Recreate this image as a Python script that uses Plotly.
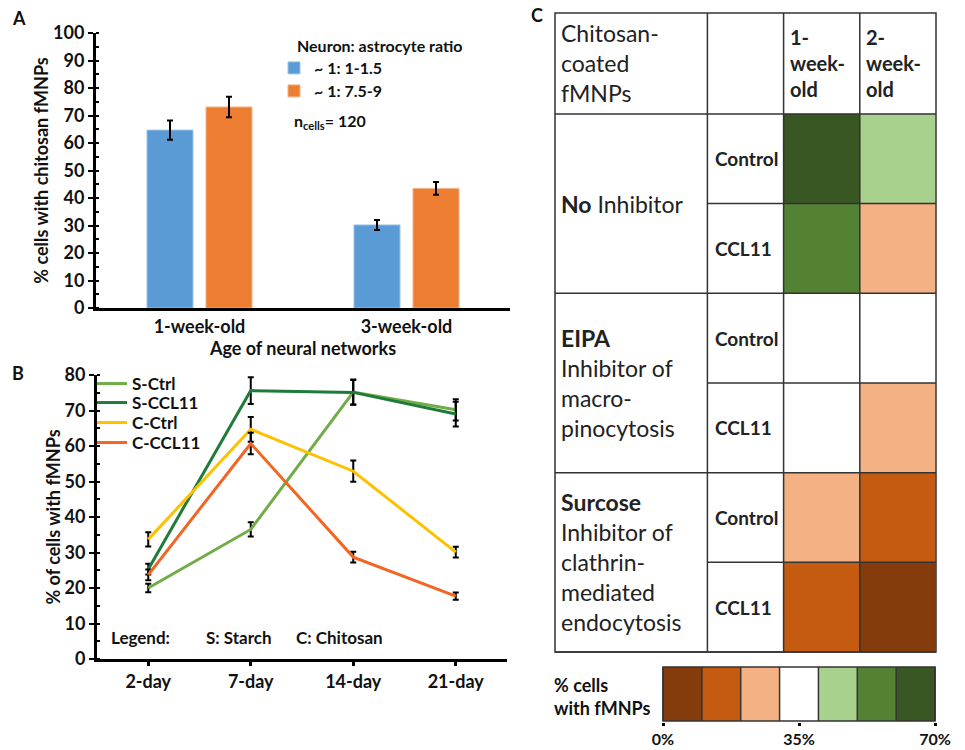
import plotly.graph_objects as go

W, H = 965, 750
FONT = "Lato, Carlito, 'Open Sans', sans-serif"
INK = "#111111"

# ---------------- Panel A data ----------------
ages_a = ["1-week-old", "3-week-old"]
ratio_labels = ["~ 1: 1-1.5", "~ 1: 7.5-9"]
ratio_low = [64.7, 30.2]
ratio_low_err = [3.5, 1.8]
ratio_high = [73.1, 43.5]
ratio_high_err = [3.7, 2.3]
n_cells = 120

# ---------------- Panel B data ----------------
days = ["2-day", "7-day", "14-day", "21-day"]
series_names = ["S-Ctrl", "S-CCL11", "C-Ctrl", "C-CCL11"]
s_ctrl = [20.0, 36.5, 75.2, 70.2]
s_ctrl_err = [1.2, 2.0, 3.5, 3.0]
s_ccl11 = [25.3, 75.6, 75.1, 69.0]
s_ccl11_err = [1.5, 3.8, 3.5, 3.5]
c_ctrl = [33.7, 64.7, 52.9, 30.1]
c_ctrl_err = [2.0, 3.5, 3.0, 1.5]
c_ccl11 = [23.7, 60.7, 28.7, 17.7]
c_ccl11_err = [1.5, 3.0, 1.5, 1.0]

# ---------------- Panel C data ----------------
group_labels = [
    "<b>No</b> Inhibitor",
    "<b>EIPA</b><br>Inhibitor of<br>macro-<br>pinocytosis",
    "<b>Surcose</b><br>Inhibitor of<br>clathrin-<br>mediated<br>endocytosis",
]
conditions = ["Control", "CCL11"]
ages_c = ["1-<br>week-<br>old", "2-<br>week-<br>old"]
# % cells with fMNPs (rows: group x condition, cols: 1-week, 2-week)
uptake = [
    [65, 45],
    [55, 25],
    [35, 35],
    [35, 25],
    [25, 15],
    [15, 5],
]
scale_edges = [0, 10, 20, 30, 40, 50, 60, 70]
scale_colors = ["#843C0C", "#C55A11", "#F4B183", "#FFFFFF", "#A9D18E", "#548235", "#385723"]
scale_ticks = [0, 35, 70]


def pxx(p):
    return p / W


def pxy(p):
    return 1 - p / H


# discrete colorscale
nb = len(scale_colors)
cscale = []
for i, c in enumerate(scale_colors):
    cscale.append([i / nb, c])
    cscale.append([(i + 1) / nb, c])

fig = go.Figure()

# ---- Panel A bars ----
a_styles = [("#5B9BD5", "#9CC3E8", "legend"), ("#ED7D31", "#F5B48A", "legend2")]
for name, vals, errs, (col, edge, lg) in zip(ratio_labels, [ratio_low, ratio_high],
                                              [ratio_low_err, ratio_high_err], a_styles):
    fig.add_trace(go.Bar(
        x=ages_a, y=vals, name=name, marker=dict(color=col, line=dict(color=edge, width=1)),
        error_y=dict(type="data", array=errs, color="black", thickness=2, width=3),
        xaxis="x", yaxis="y", legend=lg, showlegend=True,
    ))

# ---- Panel B lines ----
b_series = [(s_ctrl, s_ctrl_err, "#70AD47"), (s_ccl11, s_ccl11_err, "#1E7B3A"),
            (c_ctrl, c_ctrl_err, "#FFC000"), (c_ccl11, c_ccl11_err, "#F26522")]
for k, (name, (vals, errs, col)) in enumerate(zip(series_names, b_series)):
    fig.add_trace(go.Scatter(
        x=days, y=vals, name=name, mode="lines", line=dict(color=col, width=3),
        error_y=dict(type="data", array=errs, color="black", thickness=2, width=3),
        xaxis="x2", yaxis="y2", legend=f"legend{k + 3}", showlegend=True,
    ))

# ---- Panel C table heatmap ----
header_h = 1.125
col_edges = [0, 2, 3, 4, 5]
n_rows = len(uptake)
row_edges = [header_h + i for i in range(n_rows + 1)]
ytot = row_edges[-1]
fig.add_trace(go.Heatmap(
    z=uptake, x=col_edges[2:], y=row_edges, colorscale=cscale, zmin=scale_edges[0], zmax=scale_edges[-1],
    showscale=False, xaxis="x3", yaxis="y3", hoverinfo="skip", showlegend=False,
))

# ---- Color scale bar ----
centers = [[(a + b) / 2 for a, b in zip(scale_edges[:-1], scale_edges[1:])]]
fig.add_trace(go.Heatmap(
    z=centers, x=scale_edges, y=[0, 1], colorscale=cscale, zmin=scale_edges[0], zmax=scale_edges[-1],
    showscale=False, xaxis="x4", yaxis="y4", hoverinfo="skip", showlegend=False,
))

tickfont = dict(size=18, color=INK, weight="bold", family=FONT)
titlefont = dict(size=18, color=INK, weight="bold", family=FONT)

# table padding so border lines aren't clipped
padx = 2 / 76.2
pady = 2 / 89.8
spadx = 2 / (272 / 70)
spady = 1 / 54

legends = {}
# panel A legend entries
for k, ypx in enumerate([68, 91]):
    key = "legend" if k == 0 else "legend2"
    legends[key] = dict(x=pxx(274), y=pxy(ypx), xanchor="left", yanchor="middle", bgcolor="rgba(0,0,0,0)",
                        font=dict(size=16, weight="bold", color=INK, family=FONT), itemwidth=30)
# panel B legend entries
for k, ypx in enumerate([384, 403, 423, 443]):
    legends[f"legend{k + 3}"] = dict(x=pxx(92), y=pxy(ypx), xanchor="left", yanchor="middle",
                                     bgcolor="rgba(0,0,0,0)",
                                     font=dict(size=17, weight="bold", color=INK, family=FONT), itemwidth=30)

fig.update_layout(
    width=W, height=H, margin=dict(l=0, r=0, t=0, b=0, autoexpand=False),
    paper_bgcolor="white", plot_bgcolor="white", showlegend=True,
    font=dict(family=FONT, color=INK),
    barmode="group", bargap=0.43, bargroupgap=0.22,
    xaxis=dict(domain=[pxx(96), pxx(510)], type="category", range=[-0.5, 1.5],
               showline=True, linewidth=3, linecolor="black", ticks="", showgrid=False,
               tickfont=tickfont, title=dict(text="Age of neural networks", font=titlefont, standoff=0),
               anchor="y", automargin=False),
    yaxis=dict(domain=[pxy(308), pxy(33)], range=[0, 100], dtick=10,
               showline=True, linewidth=3, linecolor="black", showgrid=False, zeroline=False,
               ticks="outside", ticklen=5, tickwidth=2, tickcolor="black",
               minor=dict(dtick=5, ticks="inside", ticklen=3, tickwidth=2, tickcolor="black"),
               tickfont=tickfont, title=dict(text="% cells with chitosan fMNPs", font=titlefont, standoff=0),
               anchor="x", automargin=False),
    xaxis2=dict(domain=[pxx(97), pxx(507)], type="category", range=[-0.5, 3.5],
                showline=True, linewidth=3, linecolor="black", showgrid=False,
                ticks="outside", ticklen=4, tickwidth=3, tickcolor="black",
                tickfont=tickfont, anchor="y2", automargin=False),
    yaxis2=dict(domain=[pxy(659), pxy(375)], range=[0, 80], dtick=10,
                showline=True, linewidth=3, linecolor="black", showgrid=False, zeroline=False,
                ticks="outside", ticklen=5, tickwidth=2, tickcolor="black",
                minor=dict(dtick=5, ticks="inside", ticklen=3, tickwidth=2, tickcolor="black"),
                tickfont=tickfont, title=dict(text="% of cells with fMNPs", font=titlefont, standoff=0),
                anchor="x2", automargin=False),
    xaxis3=dict(domain=[pxx(553), pxx(938)], range=[col_edges[0] - padx, col_edges[-1] + padx],
                visible=False, anchor="y3"),
    yaxis3=dict(domain=[pxy(654), pxy(11)], range=[ytot + pady, -pady],
                visible=False, anchor="x3"),
    xaxis4=dict(domain=[pxx(661), pxx(937)], range=[scale_edges[0] - spadx, scale_edges[-1] + spadx],
                tickvals=scale_ticks, ticktext=[f"{t}%" for t in scale_ticks],
                ticks="outside", ticklen=3, tickwidth=3,
                tickcolor="black", showgrid=False, zeroline=False, showline=False,
                tickfont=dict(size=16, color=INK, weight="bold", family=FONT), anchor="y4", automargin=False),
    yaxis4=dict(domain=[pxy(722), pxy(666)], range=[-spady, 1 + spady], visible=False, anchor="x4"),
    **legends,
)

shapes = []
line = dict(color="#333333", width=1.5)
# table grid
shapes.append(dict(type="rect", xref="x3", yref="y3", x0=col_edges[0], x1=col_edges[-1], y0=0, y1=ytot, line=line))
for xe in col_edges[1:-1]:
    shapes.append(dict(type="line", xref="x3", yref="y3", x0=xe, x1=xe, y0=0, y1=ytot, line=line))
shapes.append(dict(type="line", xref="x3", yref="y3", x0=col_edges[0], x1=col_edges[-1], y0=header_h, y1=header_h, line=line))
for g in range(len(group_labels)):
    y0 = header_h + 2 * g
    shapes.append(dict(type="line", xref="x3", yref="y3", x0=col_edges[1], x1=col_edges[-1], y0=y0 + 1, y1=y0 + 1, line=line))
    shapes.append(dict(type="line", xref="x3", yref="y3", x0=col_edges[0], x1=col_edges[-1], y0=y0 + 2, y1=y0 + 2, line=line))
# scale bar borders
for xe in scale_edges:
    shapes.append(dict(type="line", xref="x4", yref="y4", x0=xe, x1=xe, y0=0, y1=1, line=line))
shapes.append(dict(type="rect", xref="x4", yref="y4", x0=scale_edges[0], x1=scale_edges[-1], y0=0, y1=1, line=line))
fig.update_layout(shapes=shapes)

ann = []
# panel letters
for t, x, y in [("A", 19, 18), ("B", 18, 373), ("C", 537, 15)]:
    ann.append(dict(text=f"<b>{t}</b>", x=pxx(x), y=pxy(y), xref="paper", yref="paper", showarrow=False,
                    xanchor="center", yanchor="middle", font=dict(size=18, color=INK)))
# panel A legend title and n cells
ann.append(dict(text="<b>Neuron: astrocyte ratio</b>", x=pxx(295), y=pxy(45), xref="paper", yref="paper",
                showarrow=False, xanchor="left", yanchor="middle", font=dict(size=16, color=INK)))
ann.append(dict(text=f"<b>n<sub>cells</sub>= {n_cells}</b>", x=pxx(292), y=pxy(122), xref="paper", yref="paper",
                showarrow=False, xanchor="left", yanchor="middle", font=dict(size=16, color=INK)))
# panel B legend note
for t, x in [("Legend:", 109), ("S: Starch", 204), ("C: Chitosan", 294)]:
    ann.append(dict(text=f"<b>{t}</b>", x=pxx(x), y=pxy(637), xref="paper", yref="paper", showarrow=False,
                    xanchor="left", yanchor="middle", font=dict(size=17, color=INK)))
# table header
ann.append(dict(text="Chitosan-<br>coated<br>fMNPs", x=0.05, y=header_h / 2, xref="x3", yref="y3", showarrow=False,
                xanchor="left", yanchor="middle", align="left", font=dict(size=23, color="#222222")))
for j, a in enumerate(ages_c):
    ann.append(dict(text=f"<b>{a}</b>", x=col_edges[2 + j] + 0.06, y=header_h / 2, xref="x3", yref="y3",
                    showarrow=False, xanchor="left", yanchor="middle", align="left",
                    font=dict(size=20, color="#222222")))
for g, lab in enumerate(group_labels):
    ann.append(dict(text=lab, x=0.05, y=header_h + 2 * g + 1, xref="x3", yref="y3", showarrow=False,
                    xanchor="left", yanchor="middle", align="left", font=dict(size=23, color="#222222")))
    for k, cnd in enumerate(conditions):
        ann.append(dict(text=f"<b>{cnd}</b>", x=col_edges[1] + 0.07, y=header_h + 2 * g + k + 0.5,
                        xref="x3", yref="y3", showarrow=False, xanchor="left", yanchor="middle",
                        font=dict(size=19, color="#222222")))
# scale label
ann.append(dict(text="<b>% cells<br>with fMNPs</b>", x=pxx(552), y=pxy(696), xref="paper", yref="paper",
                showarrow=False, xanchor="left", yanchor="middle", align="left", font=dict(size=18, color=INK)))
fig.update_layout(annotations=ann)

fig.write_html("out.html", config={"displayModeBar": False},
               post_script="document.body.style.margin='0px';document.body.style.padding='0px';")
